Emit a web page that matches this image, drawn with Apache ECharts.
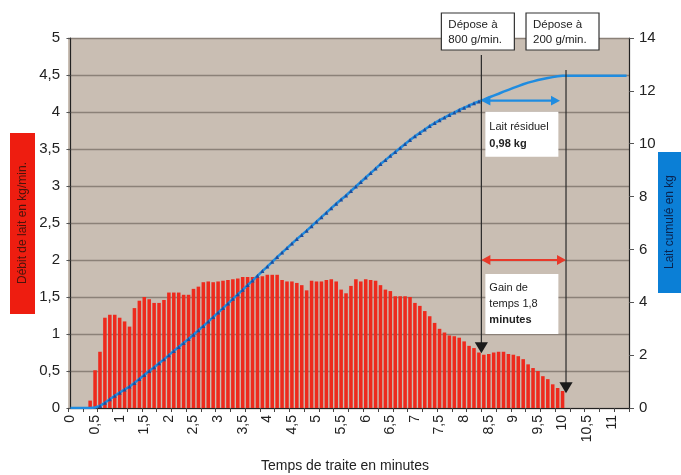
<!DOCTYPE html>
<html><head><meta charset="utf-8">
<script src="https://cdn.jsdelivr.net/npm/echarts@6/dist/echarts.min.js"></script>
<style>html,body{margin:0;padding:0;background:#fff}#c{width:681px;height:475px}</style>
</head><body><div id="c"></div>
<script>
// Time in minutes (one category every 0.1 min)
const times = [0,0.1,0.2,0.3,0.4,0.5,0.6,0.7,0.8,0.9,1,1.1,1.2,1.3,1.4,1.5,1.6,1.7,1.8,1.9,
2,2.1,2.2,2.3,2.4,2.5,2.6,2.7,2.8,2.9,3,3.1,3.2,3.3,3.4,3.5,3.6,3.7,3.8,3.9,
4,4.1,4.2,4.3,4.4,4.5,4.6,4.7,4.8,4.9,5,5.1,5.2,5.3,5.4,5.5,5.6,5.7,5.8,5.9,
6,6.1,6.2,6.3,6.4,6.5,6.6,6.7,6.8,6.9,7,7.1,7.2,7.3,7.4,7.5,7.6,7.7,7.8,7.9,
8,8.1,8.2,8.3,8.4,8.5,8.6,8.7,8.8,8.9,9,9.1,9.2,9.3,9.4,9.5,9.6,9.7,9.8,9.9,
10,10.1,10.2,10.3,10.4,10.5,10.6,10.7,10.8,10.9,11,11.1,11.2,11.3];

// Débit de lait (kg/min)
const flowRate = [0,0,0,0,0.10,0.51,0.76,1.22,1.26,1.26,1.22,1.17,1.10,1.35,1.45,1.50,1.47,1.42,1.42,1.46,
1.56,1.56,1.56,1.53,1.53,1.61,1.64,1.70,1.71,1.70,1.71,1.72,1.73,1.74,1.75,1.77,1.77,1.77,1.77,1.78,
1.80,1.80,1.80,1.73,1.71,1.71,1.69,1.66,1.59,1.72,1.71,1.71,1.73,1.74,1.71,1.60,1.55,1.65,1.74,1.71,
1.74,1.73,1.72,1.66,1.60,1.58,1.51,1.51,1.51,1.50,1.42,1.38,1.31,1.24,1.15,1.07,1.02,0.98,0.97,0.95,
0.90,0.84,0.81,0.75,0.72,0.73,0.75,0.76,0.76,0.73,0.72,0.70,0.66,0.59,0.54,0.50,0.43,0.39,0.32,0.27,
0.23,null,null,null,null,null,null,null,null,null,null,null,null,null];

// Lait cumulé (kg)
const cumulative = [0,0,0,0,0,0.02,0.08,0.20,0.33,0.46,0.58,0.70,0.81,0.95,1.10,1.25,1.40,1.54,1.69,1.84,
2.00,2.16,2.31,2.46,2.61,2.77,2.94,3.10,3.27,3.44,3.61,3.78,3.95,4.13,4.30,4.47,4.65,4.82,5.00,5.18,
5.35,5.53,5.71,5.88,6.05,6.22,6.39,6.55,6.71,6.88,7.05,7.22,7.39,7.56,7.73,7.89,8.04,8.21,8.38,8.55,
8.72,8.89,9.06,9.23,9.38,9.54,9.69,9.84,9.99,10.14,10.28,10.41,10.54,10.67,10.78,10.89,10.99,11.09,11.18,11.28,
11.36,11.45,11.53,11.60,11.67,11.75,11.82,11.89,11.97,12.04,12.11,12.18,12.25,12.31,12.36,12.41,12.45,12.49,12.52,12.55,
12.57,12.57,12.57,12.57,12.57,12.57,12.57,12.57,12.57,12.57,12.57,12.57,12.57,12.57];

// Annotations
const deposeTimes = [8.35, 10.07];
const deposeLabels = [['Dépose à', '800 g/min.'], ['Dépose à', '200 g/min.']];
const deposeLineTops = [55, 70];          // px top of the vertical guide lines
const arrowTipFlow = [0.74, 0.20];        // kg/min where the black arrows end
const residualLevel = 11.63;              // kg, level of the blue arrow
const residualText = ['Lait résiduel', '0,98 kg'];
const gainLevel = 2.0;                    // kg/min, level of the red arrow
const gainText = ['Gain de', 'temps 1,8', 'minutes'];

const comma = v => String(v).replace('.', ',');
const FONT = 'Liberation Sans, Arial, sans-serif';

const chart = echarts.init(document.getElementById('c'), null, {renderer: 'canvas'});

const lineData = cumulative.map((v, i) =>
  (times[i] >= 0.6 && times[i] <= 8.3) ? v : {value: v, symbol: 'none'});

chart.setOption({
  animation: false,
  backgroundColor: '#ffffff',
  grid: {left: 68, right: 52, top: 38, bottom: 67, show: true,
         backgroundColor: '#c9beb3', borderWidth: 0},
  xAxis: [{
    type: 'category', data: times, boundaryGap: true,
    axisLine: {lineStyle: {color: '#222', width: 1.2}},
    axisTick: {show: true, interval: 2, length: 4, lineStyle: {color: '#444'}},
    axisLabel: {interval: 4, rotate: 90, formatter: comma, color: '#222',
                fontSize: 14, fontFamily: FONT, margin: 7},
    splitLine: {show: false}
  }, {
    type: 'value', min: -0.05, max: 11.35, show: false
  }],
  yAxis: [{
    type: 'value', min: 0, max: 5, interval: 0.5, position: 'left',
    axisLine: {show: true, lineStyle: {color: '#222', width: 1.2}},
    axisTick: {show: true, length: 4, lineStyle: {color: '#555'}},
    axisLabel: {formatter: comma, color: '#222', fontSize: 15, fontFamily: FONT, margin: 8},
    splitLine: {show: true, lineStyle: {color: '#8b8178', width: 1.3}}
  }, {
    type: 'value', min: 0, max: 14, interval: 2, position: 'right',
    axisLine: {show: true, lineStyle: {color: '#222', width: 1.2}},
    axisTick: {show: true, length: 5, lineStyle: {color: '#555'}},
    axisLabel: {color: '#222', fontSize: 15, fontFamily: FONT, margin: 10},
    splitLine: {show: false}
  }],
  series: [{
    type: 'bar', name: 'Débit', xAxisIndex: 0, yAxisIndex: 0, data: flowRate,
    barWidth: '72%', itemStyle: {color: '#ee2a1d'}, z: 2
  }, {
    type: 'line', name: 'Cumul', xAxisIndex: 0, yAxisIndex: 1, data: lineData,
    symbol: 'triangle', symbolSize: 4, showSymbol: true, showAllSymbol: true,
    lineStyle: {color: '#1f8ce0', width: 2.5},
    itemStyle: {color: '#1d4e9e'}, z: 3
  }]
});

const px = t => chart.convertToPixel({xAxisIndex: 1}, t);
const pyL = v => chart.convertToPixel({yAxisIndex: 0}, v);
const pyR = v => chart.convertToPixel({yAxisIndex: 1}, v);

const g = [];
const arrowHead = (x, y, dir, color, s) => {
  let pts;
  if (dir === 'down') pts = [[x - s * 0.6, y - s], [x + s * 0.6, y - s], [x, y]];
  else if (dir === 'right') pts = [[x - s, y - s * 0.55], [x - s, y + s * 0.55], [x, y]];
  else pts = [[x + s, y - s * 0.55], [x + s, y + s * 0.55], [x, y]];
  return {type: 'polygon', shape: {points: pts}, style: {fill: color}, z: 20};
};

const xs = deposeTimes.map(px);
deposeTimes.forEach((t, i) => {
  const x = xs[i];
  const yTip = pyL(arrowTipFlow[i]);
  g.push({type: 'line', shape: {x1: x, y1: deposeLineTops[i], x2: x, y2: yTip - 8},
          style: {stroke: '#2a2a2a', lineWidth: 1.2}, z: 15});
  g.push(arrowHead(x, yTip, 'down', '#1a1a1a', 11));
  g.push({type: 'rect', shape: {x: x - 40, y: 13, width: 73, height: 37},
          style: {fill: '#ffffff', stroke: '#333', lineWidth: 1.2}, z: 16});
  g.push({type: 'text', x: x - 33, y: 17, z: 17,
          style: {text: deposeLabels[i].join('\n'), fill: '#222', font: '11.5px ' + FONT, lineHeight: 15}});
});

// Blue residual arrow
const yRes = pyR(residualLevel);
g.push({type: 'line', shape: {x1: xs[0] + 8, y1: yRes, x2: xs[1] - 14, y2: yRes},
        style: {stroke: '#1f8ce0', lineWidth: 2.2}, z: 18});
g.push(arrowHead(xs[0], yRes, 'left', '#1f8ce0', 9));
g.push(arrowHead(xs[1] - 6, yRes, 'right', '#1f8ce0', 9));
g.push({type: 'rect', shape: {x: xs[0] + 4, y: yRes + 11, width: 73, height: 45},
        style: {fill: '#ffffff'}, z: 16});
g.push({type: 'text', x: xs[0] + 8, y: yRes + 18, z: 17,
        style: {text: '{a|' + residualText[0] + '}\n{b|' + residualText[1] + '}',
                rich: {a: {fill: '#222', font: '11px ' + FONT, lineHeight: 17},
                       b: {fill: '#222', font: 'bold 11px ' + FONT, lineHeight: 17}}}});

// Red gain arrow
const yGain = pyL(gainLevel);
g.push({type: 'line', shape: {x1: xs[0] + 8, y1: yGain, x2: xs[1] - 8, y2: yGain},
        style: {stroke: '#e8392a', lineWidth: 2.2}, z: 18});
g.push(arrowHead(xs[0], yGain, 'left', '#e8392a', 9));
g.push(arrowHead(xs[1], yGain, 'right', '#e8392a', 9));
g.push({type: 'rect', shape: {x: xs[0] + 4, y: yGain + 14, width: 73, height: 60},
        style: {fill: '#ffffff'}, z: 16});
g.push({type: 'text', x: xs[0] + 8, y: yGain + 20, z: 17,
        style: {text: '{a|' + gainText[0] + '}\n{a|' + gainText[1] + '}\n{b|' + gainText[2] + '}',
                rich: {a: {fill: '#222', font: '11px ' + FONT, lineHeight: 16},
                       b: {fill: '#222', font: 'bold 11px ' + FONT, lineHeight: 16}}}});

// Axis titles
g.push({type: 'rect', shape: {x: 10, y: 133, width: 25, height: 181},
        style: {fill: '#ee1d10'}, z: 10});
g.push({type: 'text', x: 23, y: 223, rotation: Math.PI / 2, z: 11,
        style: {text: 'Débit de lait en kg/min.', fill: '#4a140c', font: '12px ' + FONT,
                align: 'center', verticalAlign: 'middle'}});
g.push({type: 'rect', shape: {x: 658, y: 152, width: 24, height: 141},
        style: {fill: '#0b7fd6'}, z: 10});
g.push({type: 'text', x: 670, y: 222, rotation: Math.PI / 2, z: 11,
        style: {text: 'Lait cumulé en kg', fill: '#0a2450', font: '12px ' + FONT,
                align: 'center', verticalAlign: 'middle'}});
g.push({type: 'text', x: 345, y: 466, z: 11,
        style: {text: 'Temps de traite en minutes', fill: '#222', font: '14px ' + FONT,
                align: 'center', verticalAlign: 'middle'}});

chart.setOption({graphic: g});
</script>
</body></html>
